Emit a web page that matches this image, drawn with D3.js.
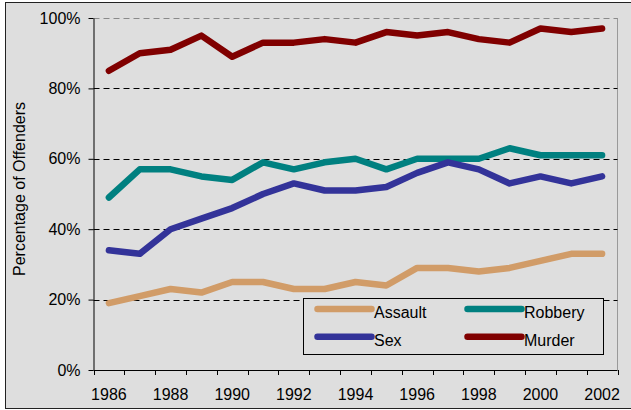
<!DOCTYPE html>
<html>
<head>
  <script src="https://d3js.org/d3.v7.min.js"></script>
  <style>
    body { margin: 0; background: #fff; }
    .chart { font-family: "Liberation Sans", Arial, sans-serif; }
    .chart text { fill: #000; }
  </style>
</head>
<body>
  <div id="viz"></div>

  <script>
    const years = d3.range(1986, 2003);
    const yTicks = [0, 0.2, 0.4, 0.6, 0.8, 1.0];

    const assault = [19, 21, 23, 22, 25, 25, 23, 23, 25, 24, 29, 29, 28, 29, 31, 33, 33];
    const robbery = [49, 57, 57, 55, 54, 59, 57, 59, 60, 57, 60, 60, 60, 63, 61, 61, 61];
    const sex     = [34, 33, 40, 43, 46, 50, 53, 51, 51, 52, 56, 59, 57, 53, 55, 53, 55];
    const murder  = [85, 90, 91, 95, 89, 93, 93, 94, 93, 96, 95, 96, 94, 93, 97, 96, 97];

    const seriesNames = ["Assault", "Robbery", "Sex", "Murder"];
    const seriesColors = ["#d19c68", "#008080", "#333399", "#800000"];
    const seriesValues = [assault, robbery, sex, murder];

    const W = 631, H = 410;
    const plot = { left: 93.5, right: 617.5, top: 18, bottom: 370 };

    const svg = d3.select("#viz")
      .append("svg")
        .attr("class", "chart")
        .attr("width", W)
        .attr("height", H);

    // frame
    svg.append("rect")
      .attr("x", 5.5).attr("y", 2.5)
      .attr("width", 630).attr("height", 406)
      .attr("fill", "#dedede")
      .attr("stroke", "#222");

    const x = d3.scaleBand()
      .domain(years)
      .range([plot.left, plot.right])
      .padding(0);
    const cx = d => x(d) + x.bandwidth() / 2;

    const y = d3.scaleLinear()
      .domain([0, 1])
      .range([plot.bottom, plot.top]);

    // right plot edge
    svg.append("line")
      .attr("x1", plot.right).attr("x2", plot.right)
      .attr("y1", plot.top).attr("y2", plot.bottom)
      .attr("stroke", "#999");

    // gridlines
    svg.append("g")
      .selectAll("line")
      .data(yTicks.filter(d => d > 0))
      .enter().append("line")
        .attr("x1", plot.left).attr("x2", plot.right)
        .attr("y1", d => Math.round(y(d)) + 0.5)
        .attr("y2", d => Math.round(y(d)) + 0.5)
        .attr("stroke", d => d === 1 ? "#8a8a8a" : "#000")
        .attr("stroke-dasharray", "6,4");

    // y axis
    const yAxis = svg.append("g")
      .attr("transform", `translate(${plot.left},0)`)
      .call(d3.axisLeft(y)
        .tickValues(yTicks)
        .tickFormat(d3.format(".0%"))
        .tickSize(5)
        .tickPadding(8)
        .tickSizeOuter(0));
    yAxis.select(".domain").attr("stroke", "#000");
    yAxis.selectAll("text")
      .attr("font-size", 16)
      .attr("font-family", "Liberation Sans, Arial, sans-serif");

    // x axis
    const xAxis = svg.append("g");
    xAxis.append("line")
      .attr("x1", plot.left).attr("x2", plot.right)
      .attr("y1", plot.bottom + 0.5).attr("y2", plot.bottom + 0.5)
      .attr("stroke", "#000");
    xAxis.selectAll(".tick")
      .data(years.map(d => x(d)).concat([x.range()[1]]))
      .enter().append("line")
        .attr("x1", d => Math.round(d) + 0.5).attr("x2", d => Math.round(d) + 0.5)
        .attr("y1", plot.bottom).attr("y2", plot.bottom + 5)
        .attr("stroke", "#000");
    xAxis.selectAll("text")
      .data(years.filter(d => d % 2 === 0))
      .enter().append("text")
        .attr("x", d => cx(d))
        .attr("y", 400)
        .attr("text-anchor", "middle")
        .attr("font-size", 16)
        .text(d => d);

    // axis title
    svg.append("text")
      .attr("transform", `translate(25,189) rotate(-90)`)
      .attr("text-anchor", "middle")
      .attr("font-size", 16)
      .text("Percentage of Offenders");

    // lines
    const line = d3.line()
      .x((d, i) => cx(years[i]))
      .y(d => y(d / 100));

    svg.append("g")
      .selectAll("path")
      .data(seriesValues)
      .enter().append("path")
        .attr("d", line)
        .attr("fill", "none")
        .attr("stroke", (d, i) => seriesColors[i])
        .attr("stroke-width", 6.5)
        .attr("stroke-linejoin", "round")
        .attr("stroke-linecap", "round");

    // legend
    const legend = svg.append("g")
      .attr("transform", "translate(303.5,298.5)");
    legend.append("rect")
      .attr("width", 300).attr("height", 56)
      .attr("fill", "#dedede")
      .attr("stroke", "#000");

    const items = legend.selectAll("g")
      .data(seriesNames)
      .enter().append("g")
        .attr("transform", (d, i) => `translate(${12 + (i % 2) * 150},${10.5 + Math.floor(i / 2) * 27.7})`);
    items.append("line")
      .attr("x1", 2).attr("x2", 56)
      .attr("y1", 0).attr("y2", 0)
      .attr("stroke", (d, i) => seriesColors[i])
      .attr("stroke-width", 6.5)
      .attr("stroke-linecap", "round");
    items.append("text")
      .attr("x", 58.5)
      .attr("y", 9)
      .attr("font-size", 16)
      .text(d => d);
  </script>
</body>
</html>
